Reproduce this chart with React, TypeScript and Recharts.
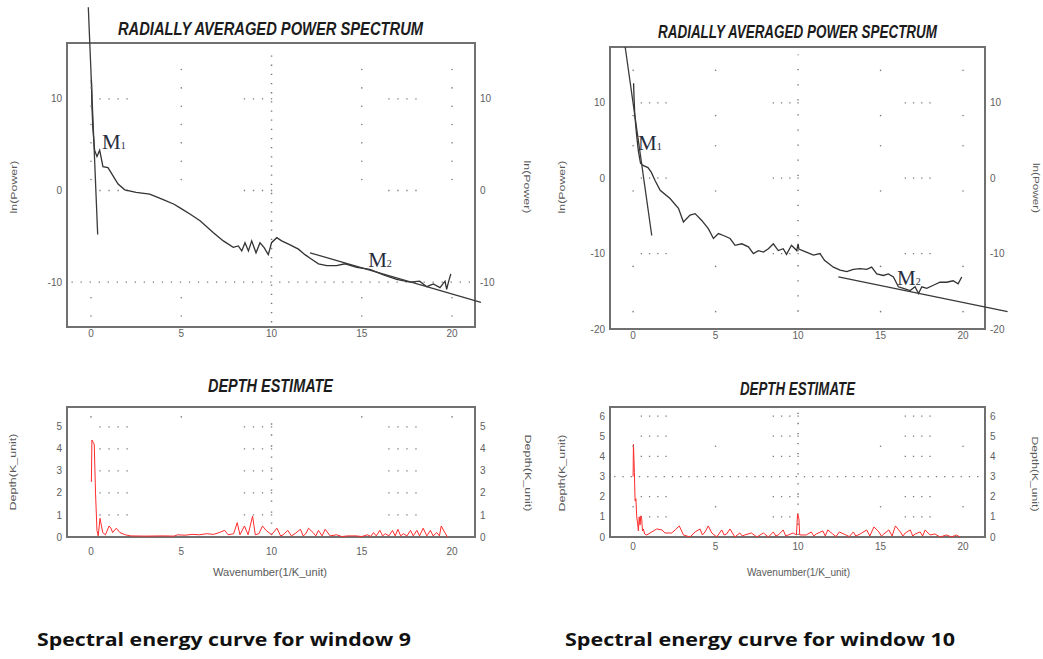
import React from 'react';
import {
  LineChart,
  Line,
  XAxis,
  YAxis,
  ReferenceLine,
  ReferenceArea,
  ReferenceDot,
} from 'recharts';

// ---------- data ----------

const waveTicks = [0, 5, 10, 15, 20];

// window 9, ln(Power) vs wavenumber
const w9Wave = [
  0.02, 0.03, 0.04, 0.05, 0.1, 0.2, 0.33, 0.48, 0.66, 0.94, 1.22, 1.5, 1.87, 2.5, 3.25,
  4.0, 4.6, 4.93, 5.5, 6.04, 6.78, 7.33, 7.88, 8.16, 8.35, 8.53, 8.72, 8.9, 9.14, 9.36,
  9.58, 9.82, 10.0, 10.29, 10.56, 11.0, 11.49, 11.85, 12.22, 12.6, 13.06, 13.6, 14.07, 14.72, 15.45,
  16.2, 16.93, 17.67, 18.2, 18.6, 18.96, 19.33, 19.61, 19.7, 19.8, 19.93,
];
const w9LnPower = [
  12.1, 11.6, 10.4, 9.3, 6.9, 4.4, 3.7, 4.4, 2.6, 2.5, 1.6, 0.7, 0.07, -0.2, -0.4,
  -1.0, -1.5, -1.9, -2.6, -3.3, -4.6, -5.5, -6.2, -6.05, -6.6, -5.7, -6.6, -5.5, -6.8, -5.7,
  -6.2, -7.0, -5.7, -5.15, -5.5, -5.9, -6.4, -7.0, -7.5, -8.0, -8.2, -8.2, -8.0, -8.4, -8.6,
  -9.2, -9.7, -10.0, -9.9, -10.5, -10.2, -10.6, -9.9, -10.8, -10.0, -9.1,
];
const w9PowerTicks = [-10, 0, 10];
const w9M1 = [{ x: -0.15, y: 20.0 }, { x: 0.37, y: -4.8 }];
const w9M2 = [{ x: 12.13, y: -6.8 }, { x: 21.6, y: -12.2 }];

// window 10, ln(Power) vs wavenumber
const w10Wave = [
  0.03, 0.06, 0.1, 0.2, 0.32, 0.45, 0.6, 0.9, 1.1, 1.33, 1.64, 2.24, 2.75, 3.05, 3.45,
  3.76, 4.16, 4.56, 4.87, 5.17, 5.48, 5.88, 6.18, 6.59, 6.99, 7.29, 7.6, 7.9, 8.2, 8.5,
  8.8, 9.1, 9.3, 9.6, 9.92, 10.0, 10.05, 10.5, 10.93, 11.33, 11.6, 12.14, 12.55, 12.95, 13.35,
  13.76, 14.16, 14.46, 14.77, 15.17, 15.47, 15.78, 16.08, 16.38, 16.79, 17.09, 17.3, 17.5, 17.8, 18.2,
  18.6, 19.0, 19.4, 19.7, 19.92,
];
const w10LnPower = [
  12.6, 10.5, 8.5, 6.0, 3.6, 2.0, 1.7, 1.4, 0.8, -0.3, -1.6, -2.7, -4.0, -5.8, -4.9,
  -4.7, -5.6, -6.7, -8.0, -7.35, -7.6, -8.0, -8.9, -8.7, -9.1, -10.0, -9.6, -9.8, -9.35, -8.7,
  -9.6, -9.35, -10.1, -8.9, -9.6, -8.7, -9.4, -9.8, -10.2, -10.0, -10.9, -11.8, -12.2, -12.4, -12.1,
  -12.0, -12.1, -11.8, -12.7, -12.9, -12.7, -13.1, -14.4, -14.6, -14.9, -14.4, -15.3, -14.4, -14.6, -14.2,
  -13.8, -13.8, -13.6, -14.0, -13.1,
];
const w10PowerTicks = [-20, -10, 0, 10];
const w10M1 = [{ x: -0.48, y: 17.4 }, { x: 1.13, y: -7.6 }];
const w10M2 = [{ x: 12.44, y: -13.1 }, { x: 22.7, y: -17.7 }];

// depth estimates, [wavenumber, depth]
const w9Depth = [
  [0.02, 2.5], [0.05, 4.4], [0.12, 4.3], [0.18, 4.2], [0.25, 2.0], [0.33, 0.3], [0.4, 0.05],
  [0.5, 0.85], [0.58, 0.5], [0.65, 0.2], [0.8, 0.1], [1.0, 0.5], [1.1, 0.4], [1.2, 0.2],
  [1.4, 0.4], [1.6, 0.2], [1.9, 0.1], [2.2, 0.05], [3.0, 0.04], [4.0, 0.05], [4.6, 0.04],
  [4.8, 0.1], [5.2, 0.08], [5.6, 0.12], [6.0, 0.1], [6.4, 0.15], [6.8, 0.12], [7.1, 0.2],
  [7.4, 0.3], [7.6, 0.1], [7.9, 0.15], [8.1, 0.65], [8.25, 0.1], [8.5, 0.5], [8.7, 0.1],
  [8.95, 0.95], [9.1, 0.1], [9.3, 0.15], [9.5, 0.5], [9.7, 0.3], [10.0, 0.1], [10.3, 0.4],
  [10.5, 0.05], [10.65, 0.1], [10.9, 0.3], [11.1, 0.05], [11.3, 0.15], [11.6, 0.35], [11.75, 0.05],
  [11.9, 0.15], [12.05, 0.4], [12.3, 0.2], [12.45, 0.05], [12.6, 0.3], [12.8, 0.05], [12.97, 0.35],
  [13.25, 0.05], [13.6, 0.1], [13.9, 0.02], [14.2, 0.05], [14.7, 0.05], [15.0, 0.02], [15.3, 0.1],
  [15.5, 0.03], [15.65, 0.2], [15.8, 0.05], [16.0, 0.3], [16.15, 0.05], [16.3, 0.15], [16.5, 0.05],
  [16.7, 0.3], [16.85, 0.05], [17.0, 0.35], [17.15, 0.05], [17.3, 0.15], [17.5, 0.05], [17.7, 0.3],
  [17.85, 0.05], [18.05, 0.3], [18.2, 0.05], [18.4, 0.4], [18.6, 0.05], [18.8, 0.3], [18.95, 0.05],
  [19.15, 0.2], [19.3, 0.05], [19.4, 0.5], [19.6, 0.2], [19.75, 0.0],
];
const w9DepthTicks = [0, 1, 2, 3, 4, 5];

const w10Depth = [
  [0.0, 3.0], [0.02, 4.6], [0.05, 3.9], [0.08, 3.2], [0.12, 1.8], [0.17, 1.9], [0.22, 1.0],
  [0.27, 0.7], [0.32, 0.3], [0.37, 1.0], [0.42, 0.6], [0.47, 1.05], [0.52, 0.9], [0.57, 0.3],
  [0.62, 0.4], [0.7, 0.15], [0.83, 0.1], [1.13, 0.25], [1.43, 0.4], [1.74, 0.35], [1.94, 0.2],
  [2.34, 0.2], [2.55, 0.35], [2.8, 0.55], [3.05, 0.1], [3.45, 0.0], [3.76, 0.25], [4.06, 0.4],
  [4.2, 0.1], [4.36, 0.25], [4.56, 0.55], [4.77, 0.2], [5.07, 0.0], [5.37, 0.35], [5.52, 0.1],
  [5.67, 0.15], [5.87, 0.4], [6.17, 0.0], [6.47, 0.2], [6.62, 0.05], [6.77, 0.1], [7.17, 0.2],
  [7.5, 0.0], [7.9, 0.2], [8.2, 0.0], [8.5, 0.25], [8.65, 0.05], [8.8, 0.1], [9.1, 0.35],
  [9.25, 0.05], [9.4, 0.1], [9.7, 0.2], [9.9, 0.1], [9.97, 1.15], [10.05, 0.9], [10.1, 0.1],
  [10.5, 0.1], [10.8, 0.25], [10.95, 0.05], [11.1, 0.15], [11.5, 0.3], [11.65, 0.05], [11.8, 0.35],
  [12.1, 0.15], [12.3, 0.02], [12.5, 0.25], [12.9, 0.1], [13.1, 0.02], [13.35, 0.25], [13.5, 0.05],
  [13.76, 0.15], [14.16, 0.35], [14.35, 0.05], [14.6, 0.5], [14.9, 0.25], [15.05, 0.05], [15.2, 0.15],
  [15.5, 0.35], [15.7, 0.05], [15.9, 0.55], [16.2, 0.25], [16.35, 0.05], [16.5, 0.2], [16.8, 0.35],
  [16.95, 0.05], [17.1, 0.15], [17.4, 0.25], [17.55, 0.05], [17.7, 0.35], [18.0, 0.1], [18.3, 0.15],
  [18.6, 0.0], [19.0, 0.1], [19.3, 0.0], [19.6, 0.1], [19.8, 0.0],
];
const w10DepthTicks = [0, 1, 2, 3, 4, 5, 6];

// the software's dotted grid: short runs of dots on some rows
const dotRuns = [[0.5, 2], [8.5, 10], [16.5, 18]];

// ---------- helpers ----------

const toRows = (ks: number[], vs: number[]) => ks.map((k, i) => ({ k, v: vs[i] }));
const pairRows = (ps: number[][]) => ps.map(([k, v]) => ({ k, v }));

const LEFT_W = 40;
const RIGHT_W = 30;
const X_H = 15;
const GRID = '#7a7a7a';
const DOT = 1.3;

const tickStyle = { fill: '#606060', fontSize: 10, fontFamily: "'Liberation Sans', Arial, sans-serif" };

type Pt = { x: number; y: number };
type Grid = {
  rows: number[];
  fullRows: number[];
  midFrom: number;
  midTo: number;
  midPitch: number;
  colXs: number[];
  colYs: number[];
};

const mLabel = (sub: string) => (props: any) => {
  const vb = props.viewBox || {};
  return (
    <text
      x={vb.x}
      y={vb.y}
      fontFamily="'Liberation Serif', 'Times New Roman', serif"
      fontSize={21}
      fill="#272c3c"
    >
      M<tspan fontSize={10}>{sub}</tspan>
    </text>
  );
};

interface PanelProps {
  rows: { k: number; v: number }[];
  width: number;
  height: number;
  margin: { top: number; right: number; bottom: number; left: number };
  xDomain: [number, number];
  yDomain: [number, number];
  yTicks: number[];
  xTickMargin: number;
  stroke: string;
  strokeWidth: number;
  grid: Grid;
  fits?: Pt[][];
  marks?: { x: number; y: number; sub: string }[];
}

const Panel: React.FC<PanelProps> = ({
  rows, width, height, margin, xDomain, yDomain, yTicks, xTickMargin,
  stroke, strokeWidth, grid, fits = [], marks = [],
}) => {
  const plotW = width - margin.left - margin.right - LEFT_W - RIGHT_W;
  const plotH = height - margin.top - margin.bottom - X_H;
  const pxX = plotW / (xDomain[1] - xDomain[0]);
  const pxY = plotH / (yDomain[1] - yDomain[0]);
  const rowDash = `${DOT} ${0.5 * pxX - DOT}`;
  const halfX = DOT / 2 / pxX;

  return (
    <LineChart width={width} height={height} margin={margin} data={rows}>
      <XAxis
        type="number"
        dataKey="k"
        domain={xDomain}
        allowDataOverflow
        ticks={waveTicks}
        interval={0}
        height={X_H}
        tickLine={false}
        axisLine={false}
        tickSize={0}
        tickMargin={xTickMargin}
        tick={tickStyle}
      />
      <YAxis
        type="number"
        domain={yDomain}
        allowDataOverflow
        ticks={yTicks}
        interval={0}
        width={LEFT_W}
        tickLine={false}
        axisLine={false}
        tickSize={0}
        tickMargin={5}
        tick={tickStyle}
      />
      <YAxis
        yAxisId="r"
        orientation="right"
        type="number"
        domain={yDomain}
        allowDataOverflow
        ticks={yTicks}
        interval={0}
        width={RIGHT_W}
        tickLine={false}
        axisLine={false}
        tickSize={0}
        tickMargin={5}
        tick={tickStyle}
      />

      {grid.rows.flatMap((y) =>
        dotRuns.map(([a, b]) => (
          <ReferenceLine
            key={`r${y}-${a}`}
            segment={[{ x: a - halfX, y }, { x: b + halfX * 1.5, y }]}
            stroke={GRID}
            strokeWidth={DOT}
            strokeDasharray={rowDash}
          />
        ))
      )}
      {grid.fullRows.map((y) => (
        <ReferenceLine
          key={`f${y}`}
          segment={[{ x: xDomain[0] + 0.25, y }, { x: xDomain[1] - 0.1, y }]}
          stroke={GRID}
          strokeWidth={DOT}
          strokeDasharray={rowDash}
        />
      ))}
      <ReferenceLine
        segment={[{ x: 10, y: grid.midFrom }, { x: 10, y: grid.midTo }]}
        stroke={GRID}
        strokeWidth={DOT + 0.2}
        strokeDasharray={`${DOT} ${grid.midPitch * pxY - DOT}`}
      />
      {grid.colXs.flatMap((x) =>
        grid.colYs.map((y) => (
          <ReferenceDot key={`d${x}-${y}`} x={x} y={y} r={0.8} fill={GRID} stroke="none" />
        ))
      )}

      <ReferenceArea
        x1={xDomain[0]}
        x2={xDomain[1]}
        y1={yDomain[0]}
        y2={yDomain[1]}
        fill="none"
        fillOpacity={0}
        stroke="#707070"
        strokeWidth={2}
        ifOverflow="visible"
      />

      <Line
        type="linear"
        dataKey="v"
        stroke={stroke}
        strokeWidth={strokeWidth}
        dot={false}
        isAnimationActive={false}
      />

      {fits.map((seg, i) => (
        <ReferenceLine
          key={`m${i}`}
          segment={seg}
          stroke="#3a3a3a"
          strokeWidth={1.3}
          ifOverflow="visible"
        />
      ))}
      {marks.map((m) => (
        <ReferenceDot
          key={`lbl${m.sub}`}
          x={m.x}
          y={m.y}
          r={0}
          fill="none"
          stroke="none"
          label={mLabel(m.sub)}
        />
      ))}
    </LineChart>
  );
};

// ---------- page ----------

const titleFont = "'Liberation Sans', Arial, sans-serif";
const smallFont = "'Liberation Sans', Arial, sans-serif";

const App: React.FC = () => {
  const leftX: [number, number] = [-1.33, 21.27];
  const rightX: [number, number] = [-1.4, 21.33];

  return (
    <div style={{ position: 'absolute', left: 0, top: 0, width: 1043, height: 659, background: '#fff' }}>
      <div style={{ position: 'absolute', left: 0, top: 0 }}>
        <Panel
          rows={toRows(w9Wave, w9LnPower)}
          width={520}
          height={345}
          margin={{ top: 43, right: 15, bottom: 3, left: 27 }}
          xDomain={leftX}
          yDomain={[-14.9, 16.1]}
          yTicks={w9PowerTicks}
          xTickMargin={3}
          stroke="#333"
          strokeWidth={1.3}
          grid={{
            rows: [10, 0],
            fullRows: [-10],
            midFrom: -14.4,
            midTo: 15.6,
            midPitch: 1,
            colXs: [0, 5, 15, 20],
            colYs: [13.2, 11.2, 9.2, 7.2, 5.2, 3.2, 1.2, -11.7, -13.7],
          }}
          fits={[w9M1, w9M2]}
          marks={[{ x: 0.61, y: 4.5, sub: '1' }, { x: 15.35, y: -8.4, sub: '2' }]}
        />
      </div>
      <div style={{ position: 'absolute', left: 520, top: 0 }}>
        <Panel
          rows={toRows(w10Wave, w10LnPower)}
          width={523}
          height={345}
          margin={{ top: 47, right: 28, bottom: 1, left: 50 }}
          xDomain={rightX}
          yDomain={[-20, 17.4]}
          yTicks={w10PowerTicks}
          xTickMargin={3}
          stroke="#333"
          strokeWidth={1.3}
          grid={{
            rows: [10, 0, -10],
            fullRows: [],
            midFrom: -17.7,
            midTo: 16.4,
            midPitch: 2,
            colXs: [0, 5, 15, 20],
            colYs: [14.3, 8.3, 4.3, -1.7, -11.7, -17.7],
          }}
          fits={[w10M1, w10M2]}
          marks={[{ x: 0.3, y: 3.7, sub: '1' }, { x: 16.0, y: -14.2, sub: '2' }]}
        />
      </div>
      <div style={{ position: 'absolute', left: 0, top: 395 }}>
        <Panel
          rows={pairRows(w9Depth)}
          width={520}
          height={165}
          margin={{ top: 12, right: 15, bottom: 8, left: 27 }}
          xDomain={leftX}
          yDomain={[0, 5.9]}
          yTicks={w9DepthTicks}
          xTickMargin={11}
          stroke="#ff2b2b"
          strokeWidth={1}
          grid={{
            rows: [5, 4, 3, 2, 1],
            fullRows: [],
            midFrom: 0.1,
            midTo: 5.5,
            midPitch: 0.5,
            colXs: [0, 5, 15, 20],
            colYs: [5.45],
          }}
        />
      </div>
      <div style={{ position: 'absolute', left: 520, top: 395 }}>
        <Panel
          rows={pairRows(w10Depth)}
          width={523}
          height={165}
          margin={{ top: 12, right: 28, bottom: 8, left: 50 }}
          xDomain={rightX}
          yDomain={[0, 6.45]}
          yTicks={w10DepthTicks}
          xTickMargin={6}
          stroke="#ff2b2b"
          strokeWidth={1}
          grid={{
            rows: [6, 5, 4, 2, 1],
            fullRows: [3],
            midFrom: 0.1,
            midTo: 6.3,
            midPitch: 0.5,
            colXs: [0, 5, 15, 20],
            colYs: [4.5, 1.5],
          }}
        />
      </div>

      <svg
        width={1043}
        height={659}
        style={{ position: 'absolute', left: 0, top: 0, pointerEvents: 'none' }}
      >
        <g fontFamily={titleFont} fontWeight={700} fontStyle="italic" fontSize={18} fill="#1c1c1c">
          <text x={118} y={35} textLength={305} lengthAdjust="spacingAndGlyphs">RADIALLY AVERAGED POWER SPECTRUM</text>
          <text x={658} y={38} textLength={279} lengthAdjust="spacingAndGlyphs">RADIALLY AVERAGED POWER SPECTRUM</text>
          <text x={208} y={392} textLength={125} lengthAdjust="spacingAndGlyphs">DEPTH ESTIMATE</text>
          <text x={740} y={395} textLength={115} lengthAdjust="spacingAndGlyphs">DEPTH ESTIMATE</text>
        </g>
        <g fontFamily={smallFont} fontSize={11} fill="#5a5a5a">
          <text x={213} y={576} textLength={114} lengthAdjust="spacingAndGlyphs">Wavenumber(1/K_unit)</text>
          <text x={747} y={576} textLength={103} lengthAdjust="spacingAndGlyphs">Wavenumber(1/K_unit)</text>
        </g>
        <g fontFamily={smallFont} fontSize={8.5} fill="#5a5a5a" textAnchor="middle" dominantBaseline="central">
          <text transform="translate(14,187) rotate(-90)" textLength={53} lengthAdjust="spacingAndGlyphs">ln(Power)</text>
          <text transform="translate(527,187) rotate(90)" textLength={53} lengthAdjust="spacingAndGlyphs">ln(Power)</text>
          <text transform="translate(562,187) rotate(-90)" textLength={53} lengthAdjust="spacingAndGlyphs">ln(Power)</text>
          <text transform="translate(1036,188) rotate(90)" textLength={50} lengthAdjust="spacingAndGlyphs">ln(Power)</text>
          <text transform="translate(13,472) rotate(-90)" textLength={77} lengthAdjust="spacingAndGlyphs">Depth(K_unit)</text>
          <text transform="translate(528,473) rotate(90)" textLength={77} lengthAdjust="spacingAndGlyphs">Depth(K_unit)</text>
          <text transform="translate(562,473) rotate(-90)" textLength={77} lengthAdjust="spacingAndGlyphs">Depth(K_unit)</text>
          <text transform="translate(1035,474) rotate(90)" textLength={75} lengthAdjust="spacingAndGlyphs">Depth(K_unit)</text>
        </g>
        <g fontFamily="'Open Sans', Lato, sans-serif" fontWeight={700} fontSize={18.5} fill="#111">
          <text x={37} y={646} textLength={374} lengthAdjust="spacingAndGlyphs">Spectral energy curve for window 9</text>
          <text x={565} y={646} textLength={390} lengthAdjust="spacingAndGlyphs">Spectral energy curve for window 10</text>
        </g>
      </svg>
    </div>
  );
};

export default App;
